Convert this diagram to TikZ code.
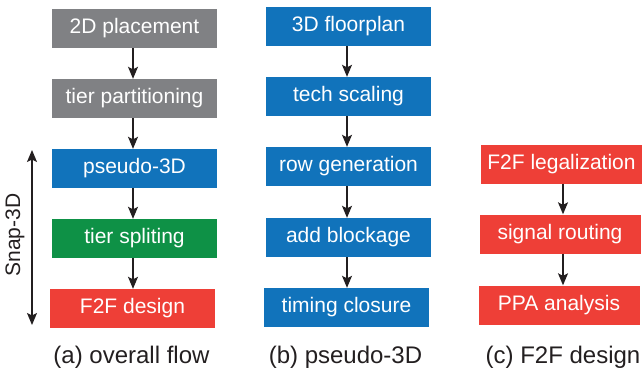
\documentclass[tikz,border=0pt]{standalone}
\usepackage{fontspec}
\setmainfont{Liberation Sans}
\usetikzlibrary{arrows.meta}
\definecolor{stepgray}{HTML}{808184}
\definecolor{stepblue}{HTML}{1173BB}
\definecolor{stepgreen}{HTML}{0E9146}
\definecolor{stepred}{HTML}{EE3F37}
\definecolor{inkdark}{HTML}{231F20}
\tikzset{
  stepbox/.style={minimum height=39pt, inner sep=0pt, text=white,
    font=\fontsize{21}{25}\selectfont},
  wbox/.style={stepbox, minimum width=165pt},
  nbox/.style={stepbox, minimum width=161pt},
  flow/.style={draw=inkdark, line width=1.2pt,
    -{Stealth[length=12pt,width=10pt,inset=2.5pt]}},
  caption/.style={text=inkdark, font=\fontsize{24}{28}\selectfont}
}
\begin{document}
\begin{tikzpicture}[x=1pt,y=-1pt]
\useasboundingbox (0,0) rectangle (642,377);
% (a) overall flow
\node[wbox, fill=stepgray]  (a1) at (134.5,28.5)  {2D placement};
\node[wbox, fill=stepgray]  (a2) at (134.5,98.5)  {tier partitioning};
\node[wbox, fill=stepblue]  (a3) at (134.5,168.5) {pseudo-3D};
\node[wbox, fill=stepgreen] (a4) at (134.5,238.5) {tier spliting};
\node[wbox, fill=stepred]   (a5) at (132.5,308.5) {F2F design};
\draw[flow] (a1.south -| 133,0) -- (a2.north -| 133,0);
\draw[flow] (a2.south -| 133,0) -- (a3.north -| 133,0);
\draw[flow] (a3.south -| 133,0) -- (a4.north -| 133,0);
\draw[flow] (a4.south -| 133,0) -- (a5.north -| 133,0);
% span of the Snap-3D steps
\coordinate (s1) at (32,150);
\coordinate (s2) at (32,325);
\draw[flow, {Stealth[length=12pt,width=10pt,inset=2.5pt]}-{Stealth[length=12pt,width=10pt,inset=2.5pt]}] (s1) -- (s2);
\node[stepbox, text=inkdark, rotate=90, minimum height=0pt] (snap) at (15,235) {Snap-3D};
\node[caption] (capa) at (131.5,357) {(a) overall flow};
% (b) pseudo-3D
\node[wbox, fill=stepblue] (b1) at (348.5,26.5)  {3D floorplan};
\node[wbox, fill=stepblue] (b2) at (348.5,96.5)  {tech scaling};
\node[wbox, fill=stepblue] (b3) at (348.5,166.5) {row generation};
\node[wbox, fill=stepblue] (b4) at (348.5,237.5) {add blockage};
\node[wbox, fill=stepblue] (b5) at (346.5,307.5) {timing closure};
\draw[flow] (b1.south -| 347,0) -- (b2.north -| 347,0);
\draw[flow] (b2.south -| 347,0) -- (b3.north -| 347,0);
\draw[flow] (b3.south -| 347,0) -- (b4.north -| 347,0);
\draw[flow] (b4.south -| 347,0) -- (b5.north -| 347,0);
\node[caption] (capb) at (345.5,357) {(b) pseudo-3D};
% (c) F2F design
\node[nbox, fill=stepred] (c1) at (561.5,164) {F2F legalization};
\node[nbox, fill=stepred] (c2) at (560,234)   {signal routing};
\node[nbox, fill=stepred] (c3) at (559,305)   {PPA analysis};
\draw[flow] (c1.south -| 563,0) -- (c2.north -| 563,0);
\draw[flow] (c2.south -| 563,0) -- (c3.north -| 563,0);
\node[caption] (capc) at (563,357) {(c) F2F design};
\end{tikzpicture}
\end{document}
